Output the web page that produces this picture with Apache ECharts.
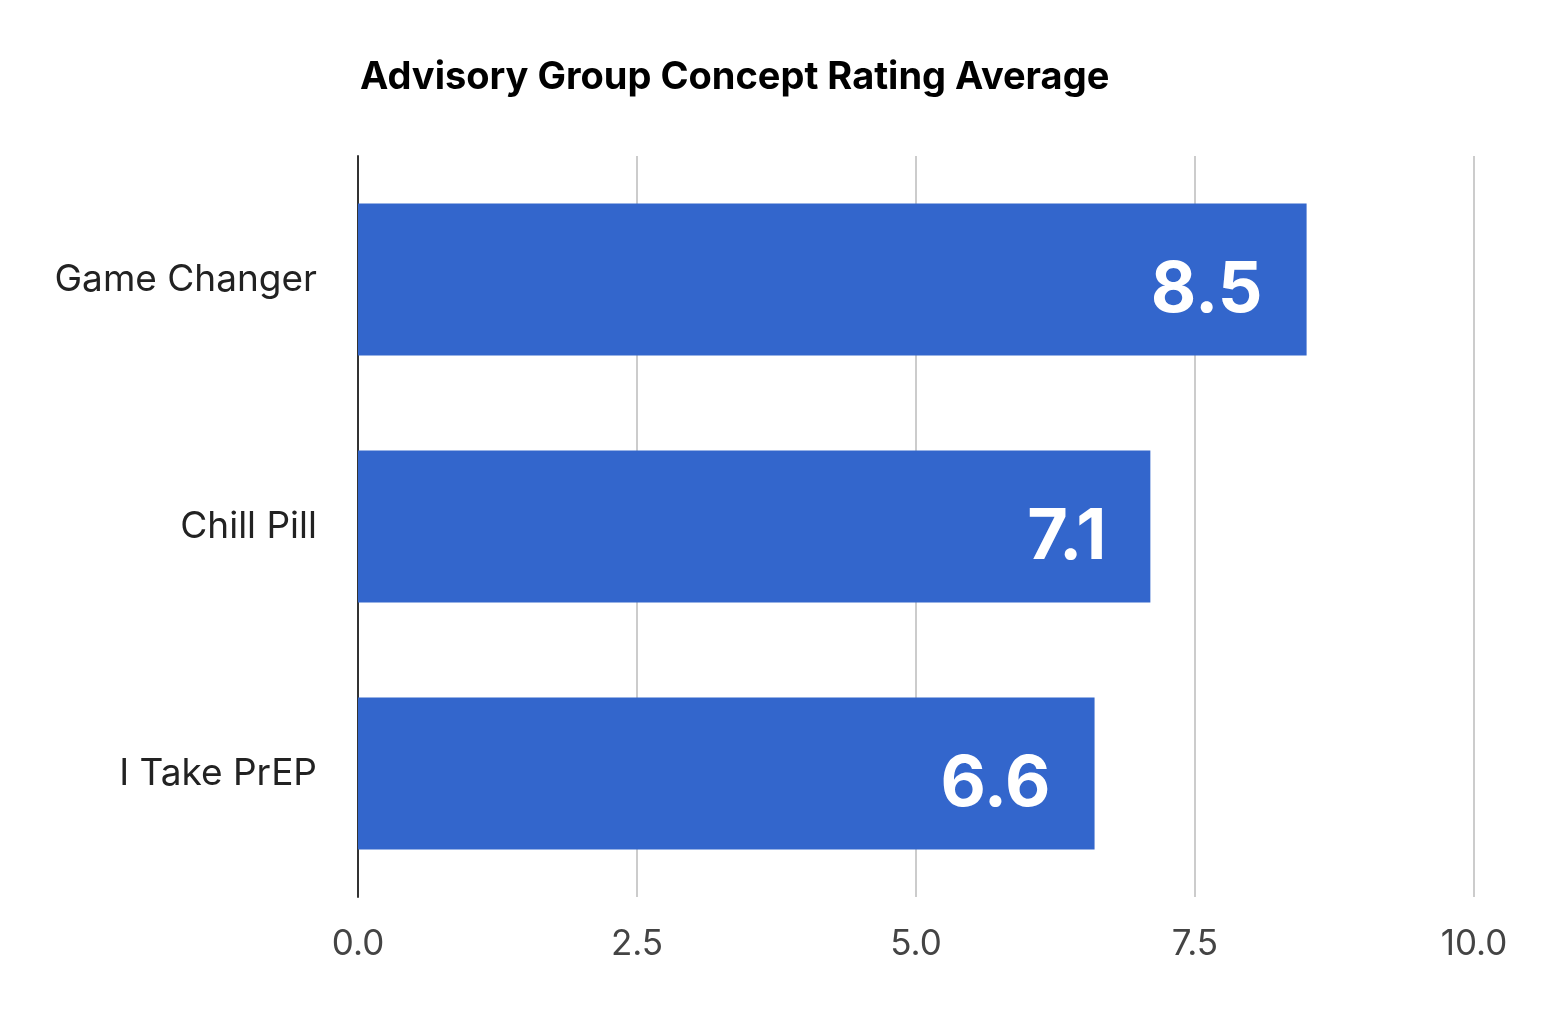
<!DOCTYPE html>
<html lang="en">
<head>
<meta charset="UTF-8">
<title>Advisory Group Concept Rating Average</title>
<style>
  html, body { margin: 0; padding: 0; background: #fff; }
  #main { width: 1563px; height: 1017px; }
</style>
</head>
<body>
<div id="main"></div>
<script src="https://cdn.jsdelivr.net/npm/echarts@6/dist/echarts.min.js"></script>
<script>
// data
var concepts = ['Game Changer', 'Chill Pill', 'I Take PrEP'];
var ratings = [8.5, 7.1, 6.6];
var xTicks = [0, 2.5, 5, 7.5, 10];

var chart = echarts.init(document.getElementById('main'));

var option = {
    backgroundColor: '#ffffff',
    textStyle: { fontFamily: 'Inter' },
    title: {
        text: 'Advisory Group Concept Rating Average',
        left: 355,
        top: 54,
        textStyle: { fontFamily: 'Inter', fontSize: 38, fontWeight: 'bold', color: '#000' }
    },
    grid: { left: 358, right: 89, top: 156, bottom: 120, containLabel: false },
    xAxis: {
        type: 'value',
        min: xTicks[0],
        max: xTicks[xTicks.length - 1],
        interval: xTicks[1] - xTicks[0],
        axisLine: { show: false },
        axisTick: { show: false },
        splitLine: { lineStyle: { color: '#cccccc', width: 2 } },
        axisLabel: {
            margin: 30,
            fontSize: 35,
            color: '#444',
            formatter: function (v) { return v.toFixed(1); }
        }
    },
    yAxis: {
        type: 'category',
        data: concepts,
        inverse: true,
        axisLine: { lineStyle: { color: '#333', width: 2 } },
        axisTick: { show: false },
        axisLabel: { margin: 41, fontSize: 37, color: '#222', padding: [24, 0, 0, 0] }
    },
    series: [{
        type: 'bar',
        data: ratings,
        barCategoryGap: '38.5%',
        itemStyle: { color: '#3366cc' },
        label: {
            show: true,
            position: 'insideRight',
            distance: 44,
            offset: [0, 11],
            color: '#fff',
            fontSize: 70,
            fontWeight: 'bold',
            formatter: function (p) { return p.value.toFixed(1); }
        }
    }]
};

chart.setOption(option);
</script>
</body>
</html>
